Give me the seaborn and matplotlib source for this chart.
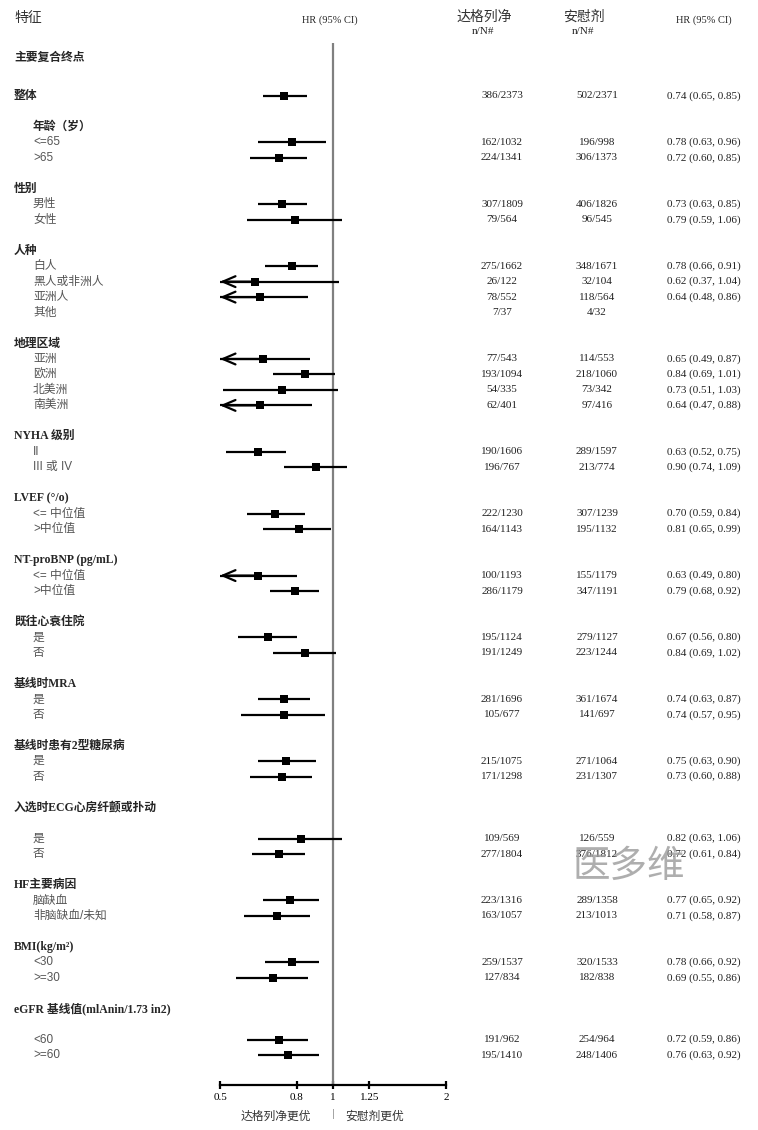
import numpy as np
import pandas as pd
import matplotlib
matplotlib.use('Agg')
import matplotlib.pyplot as plt
import matplotlib.transforms as mtransforms
from matplotlib.ticker import FixedLocator, NullLocator, FixedFormatter
import seaborn as sns

# ---- data ----
overall_label = '整体'
group_titles = ['年龄（岁）', '性别', '人种', '地理区域', 'NYHA 级别', 'LVEF (°/o)',
                'NT-proBNP (pg/mL)', '既往心衰住院', '基线时MRA', '基线时患有2型糖尿病',
                '入选时ECG心房纤颤或扑动', 'HF主要病因', 'BMI(kg/m²)',
                'eGFR 基线值(mlAnin/1.73 in2)']
subgroups = [['<=65', '>65'], ['男性', '女性'], ['白人', '黑人或非洲人', '亚洲人', '其他'],
             ['亚洲', '欧洲', '北美洲', '南美洲'], ['II', 'III 或 IV'],
             ['<= 中位值', '>中位值'], ['<= 中位值', '>中位值'], ['是', '否'], ['是', '否'],
             ['是', '否'], ['是', '否'], ['脑缺血', '非脑缺血/未知'], ['<30', '>=30'],
             ['<60', '>=60']]

dapa_nN = ['386/2373', '162/1032', '224/1341', '307/1809', '79/564', '275/1662', '26/122',
           '78/552', '7/37', '77/543', '193/1094', '54/335', '62/401', '190/1606', '196/767',
           '222/1230', '164/1143', '100/1193', '286/1179', '195/1124', '191/1249', '281/1696',
           '105/677', '215/1075', '171/1298', '109/569', '277/1804', '223/1316', '163/1057',
           '259/1537', '127/834', '191/962', '195/1410']
plac_nN = ['502/2371', '196/998', '306/1373', '406/1826', '96/545', '348/1671', '32/104',
           '118/564', '4/32', '114/553', '218/1060', '73/342', '97/416', '289/1597', '213/774',
           '307/1239', '195/1132', '155/1179', '347/1191', '279/1127', '223/1244', '361/1674',
           '141/697', '271/1064', '231/1307', '126/559', '376/1812', '289/1358', '213/1013',
           '320/1533', '182/838', '254/964', '248/1406']
hr = [0.74, 0.78, 0.72, 0.73, 0.79, 0.78, 0.62, 0.64, np.nan, 0.65, 0.84, 0.73, 0.64,
      0.63, 0.90, 0.70, 0.81, 0.63, 0.79, 0.67, 0.84, 0.74, 0.74, 0.75, 0.73, 0.82, 0.72,
      0.77, 0.71, 0.78, 0.69, 0.72, 0.76]
ci_lo = [0.65, 0.63, 0.60, 0.63, 0.59, 0.66, 0.37, 0.48, np.nan, 0.49, 0.69, 0.51, 0.47,
         0.52, 0.74, 0.59, 0.65, 0.49, 0.68, 0.56, 0.69, 0.63, 0.57, 0.63, 0.60, 0.63, 0.61,
         0.65, 0.58, 0.66, 0.55, 0.59, 0.63]
ci_hi = [0.85, 0.96, 0.85, 0.85, 1.06, 0.91, 1.04, 0.86, np.nan, 0.87, 1.01, 1.03, 0.88,
         0.75, 1.09, 0.84, 0.99, 0.80, 0.92, 0.80, 1.02, 0.87, 0.95, 0.90, 0.88, 1.06, 0.84,
         0.92, 0.87, 0.92, 0.86, 0.86, 0.92]
x_ticks = [0.5, 0.8, 1, 1.25, 2]
x_ticklabels = ['0.5', '0.8', '1', '1.25', '2']

# ---- layout (rows) ----
extra_gap = {'入选时ECG心房纤颤或扑动', 'eGFR 基线值(mlAnin/1.73 in2)'}
header_rows = []
item_labels = [overall_label]
item_rows = [0]
r = 2
for title, items in zip(group_titles, subgroups):
    header_rows.append(r)
    r += 1
    if title in extra_gap:
        r += 1
    for it in items:
        item_labels.append(it)
        item_rows.append(r)
        r += 1
    r += 1

df = pd.DataFrame({'label': item_labels, 'row': item_rows, 'dapa': dapa_nN,
                   'plac': plac_nN, 'hr': hr, 'lo': ci_lo, 'hi': ci_hi})

# ---- style ----
sns.set_style('white')
plt.rcParams['font.family'] = ['Liberation Serif', 'Noto Sans CJK SC']
serif_cjk = ['Liberation Serif', 'Noto Sans CJK SC']
sans_cjk = ['Liberation Sans', 'Noto Sans CJK SC']

W, H = 758, 1130
Y0, PITCH = 96, 15.47          # pixel y of row 0, pixels per row
AX_L, AX_R, AX_B = 220, 446, 1085

fig = plt.figure(figsize=(W / 100, H / 100), dpi=100)
ax = fig.add_axes([AX_L / W, (H - AX_B) / H, (AX_R - AX_L) / W, AX_B / H])
ax.set_xscale('log')
ax.set_xlim(0.5, 2)
ax.set_ylim((AX_B - Y0) / PITCH, (0 - Y0) / PITCH)

def prow(py):
    return (py - Y0) / PITCH

# reference line
ax.vlines(1, prow(43), prow(AX_B), color='#808080', lw=1.6, zorder=1)

# CI lines + arrows
pts = df.dropna(subset=['hr'])
lo_clip = pts['lo'].clip(lower=0.5)
ax.hlines(pts['row'], lo_clip, pts['hi'], color='black', lw=1.6, zorder=2)
for _, p in pts[pts['lo'] < 0.5].iterrows():
    ax.annotate('', xy=(0.5, p['row']), xytext=(p['hr'], p['row']),
                arrowprops=dict(arrowstyle='->,head_length=0.7,head_width=0.3',
                                lw=1.6, color='black', shrinkA=0, shrinkB=0,
                                mutation_scale=13), annotation_clip=False)

sns.scatterplot(data=pts, x='hr', y='row', marker='s', color='black', s=40,
                edgecolor='black', linewidth=0, ax=ax, zorder=3, legend=False)

# axis styling
for side in ['left', 'top', 'right']:
    ax.spines[side].set_visible(False)
ax.spines['bottom'].set_linewidth(1.6)
ax.spines['bottom'].set_color('black')
ax.xaxis.set_major_locator(FixedLocator(x_ticks))
ax.xaxis.set_major_formatter(FixedFormatter(x_ticklabels))
ax.xaxis.set_minor_locator(NullLocator())
ax.set_yticks([])
ax.set_xlabel('')
ax.set_ylabel('')
ax.tick_params(axis='x', bottom=True, direction='inout', length=6, width=1.6,
               labelsize=8, pad=3, colors='black')
for t in ax.get_xticklabels():
    t.set_family(serif_cjk)

# ---- text columns ----
tr = mtransforms.blended_transform_factory(fig.transFigure, ax.transData)
fx = lambda px: px / W

fig.text(fx(14), 1 - 18 / H, '特征', fontsize=10, color='#333333', family=sans_cjk,
         va='center', ha='left')
ax.text(fx(330), prow(20), 'HR (95% CI)', transform=tr, fontsize=7.5, ha='center',
        va='center', family=serif_cjk)
ax.text(fx(484), prow(17), '达格列净', transform=tr, fontsize=10, ha='center', va='center',
        family=sans_cjk, color='#333333')
ax.text(fx(483), prow(32), 'n/N#', transform=tr, fontsize=8, ha='center', va='center',
        family=serif_cjk)
ax.text(fx(584), prow(17), '安慰剂', transform=tr, fontsize=10, ha='center', va='center',
        family=sans_cjk, color='#333333')
ax.text(fx(583), prow(32), 'n/N#', transform=tr, fontsize=8, ha='center', va='center',
        family=serif_cjk)
ax.text(fx(704), prow(20), 'HR (95% CI)', transform=tr, fontsize=7.5, ha='center',
        va='center', family=serif_cjk)

ax.text(fx(14), prow(58), '主要复合终点', transform=tr, fontsize=8.5, ha='left',
        va='center', family=serif_cjk, weight='bold')

for title, hrw in zip(group_titles, header_rows):
    xh = 33 if title == '年龄（岁）' else 14
    ax.text(fx(xh), hrw, title, transform=tr, fontsize=8.5, ha='left', va='center',
            family=serif_cjk, weight='bold', clip_on=False)

for _, p in df.iterrows():
    if p['label'] == overall_label:
        ax.text(fx(14), p['row'], p['label'], transform=tr, fontsize=8.5, ha='left',
                va='center', family=serif_cjk, weight='bold')
    else:
        ax.text(fx(33), p['row'], p['label'], transform=tr, fontsize=8.5, ha='left',
                va='center', family=sans_cjk, color='#555555')
    ax.text(fx(502), p['row'], p['dapa'], transform=tr, fontsize=8, ha='center',
            va='center', family=serif_cjk, color='#222222')
    ax.text(fx(597), p['row'], p['plac'], transform=tr, fontsize=8, ha='center',
            va='center', family=serif_cjk, color='#222222')
    if not np.isnan(p['hr']):
        ax.text(fx(667), p['row'], f"{p['hr']:.2f} ({p['lo']:.2f}, {p['hi']:.2f})",
                transform=tr, fontsize=8, ha='left', va='center', family=serif_cjk,
                color='#222222')

# favours labels
ax.text(fx(276), prow(1117), '达格列净更优', transform=tr, fontsize=8.5, ha='center',
        va='center', family=sans_cjk, color='#333333', clip_on=False)
ax.text(fx(333), prow(1114), '|', transform=tr, fontsize=8, ha='center', va='center',
        family=sans_cjk, color='#999999', clip_on=False)
ax.text(fx(375), prow(1117), '安慰剂更优', transform=tr, fontsize=8.5, ha='center',
        va='center', family=sans_cjk, color='#333333', clip_on=False)

# watermark (overlaps the table, as in the source image)
fig.text(fx(629), 1 - 867 / H, '医多维', fontsize=27, color='#9a9a9a', alpha=0.8,
         family=sans_cjk, ha='center', va='center', weight='light')

fig.savefig('out.png', dpi=100, facecolor='white')
